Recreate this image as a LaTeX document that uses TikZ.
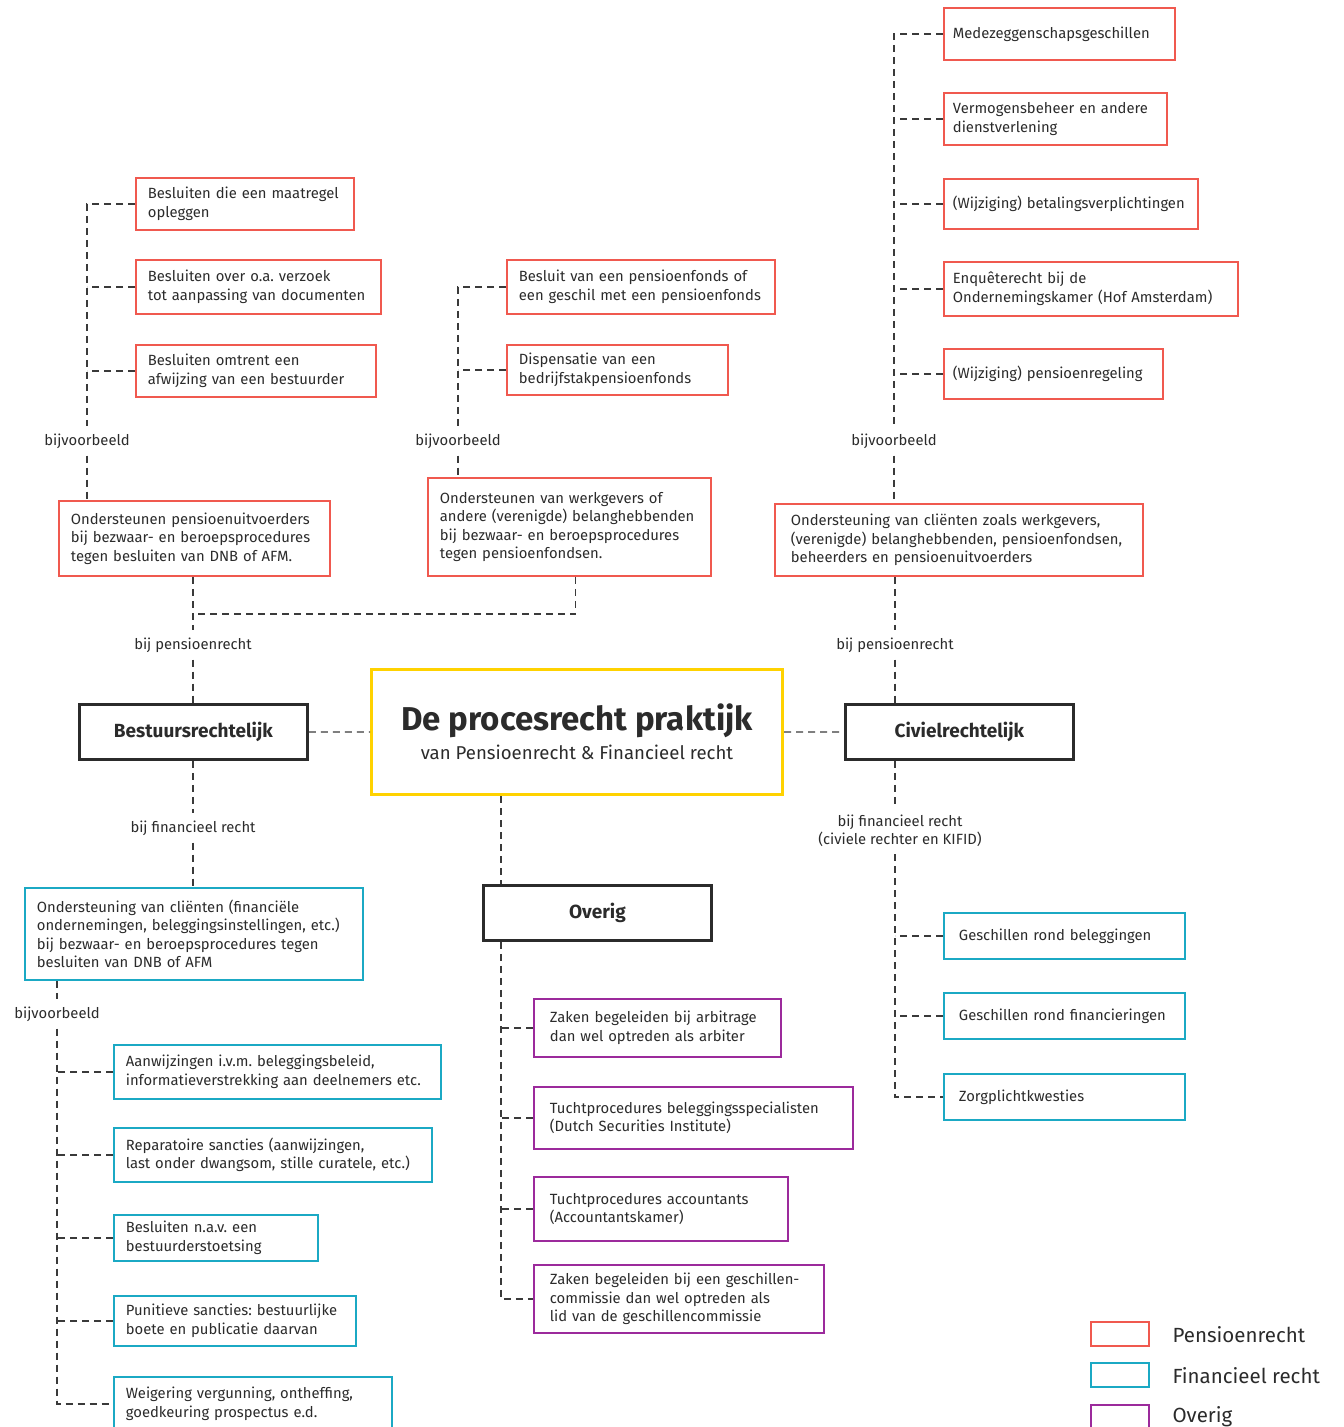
\documentclass[tikz,border=0pt]{standalone}
\usepackage{fontspec}
\setmainfont{Fira Sans}
\usepackage{tikz}
\usetikzlibrary{positioning}
\usetikzlibrary{calc}
\definecolor{pred}{HTML}{F0594F}
\definecolor{pblue}{HTML}{1BA9C4}
\definecolor{ppurple}{HTML}{9C2A9C}
\definecolor{pyellow}{HTML}{FFD200}
\definecolor{txt}{HTML}{2B2B2B}
\definecolor{lcol}{HTML}{3A3A3A}
\frenchspacing

\begin{document}
\begin{tikzpicture}[
        x=1pt, y=-1pt,
        every node/.style={font=\fontsize{14.8}{18.5}\selectfont, text=txt},
        box/.style={draw, rectangle, anchor=north west, align=left, inner xsep=12pt, inner ysep=0pt, line width=1.8pt},
        rbox/.style={box, draw=pred},
        bbox/.style={box, draw=pblue},
        obox/.style={box, draw=ppurple},
        kbox/.style={draw=txt, line width=2.8pt, minimum width=228, minimum height=55, anchor=north west, font=\fontsize{19}{22}\selectfont\bfseries},
        lbl/.style={align=center, inner ysep=7pt},
        dline/.style={draw=lcol, line width=1.2pt, dash pattern=on 7pt off 5pt}
    ]
    \useasboundingbox (0,0) rectangle (1344,1427);
    \clip (0,0) rectangle (1344,1427);

    % centre
    \node[draw=pyellow, line width=3pt, minimum width=411, minimum height=125, anchor=north west, align=center] (ttl) at (370,668)
        {{\fontsize{33}{36}\selectfont\bfseries De procesrecht praktijk}\\[6pt]{\fontsize{18.6}{22}\selectfont van Pensioenrecht \& Financieel recht}};
    \node[kbox] (bes) at (78,703) {Bestuursrechtelijk};
    \node[kbox] (civ) at (844,703) {Civielrechtelijk};
    \node[kbox] (ovr) at (482,884) {Overig};
    \draw[dline] (bes.east) -- (ttl.west);
    \draw[dline] (ttl.east) -- (civ.west);

    % bestuursrechtelijk, pensioenrecht
    \node[rbox, text width=194, minimum height=52] (b1) at (135,177) {Besluiten die een maatregel\\opleggen};
    \node[rbox, text width=221, minimum height=54] (b2) at (135,259) {Besluiten over o.a. verzoek\\tot aanpassing van documenten};
    \node[rbox, text width=216, minimum height=52] (b3) at (135,344) {Besluiten omtrent een\\afwijzing van een bestuurder};
    \node[rbox, text width=247, minimum height=75] (bp) at (58,500) {Ondersteunen pensioenuitvoerders\\bij bezwaar- en beroepsprocedures\\tegen besluiten van DNB of AFM.};
    \node[lbl] (lbv) at (87,441) {bijvoorbeeld};
    \draw[dline] (b1.west) -| (lbv.north);
    \draw[dline] (b2.west) -- (b2.west -| lbv.north);
    \draw[dline] (b3.west) -- (b3.west -| lbv.north);
    \draw[dline] (lbv.south) -- (lbv.south |- bp.north);

    \node[rbox, text width=244, minimum height=54] (m1) at (506,259) {Besluit van een pensioenfonds of\\een geschil met een pensioenfonds};
    \node[rbox, text width=197, minimum height=50] (m2) at (506,344) {Dispensatie van een\\bedrijfstakpensioenfonds};
    \node[rbox, text width=259, minimum height=98] (wp) at (427,477) {Ondersteunen van werkgevers of\\andere (verenigde) belanghebbenden\\bij bezwaar- en beroepsprocedures\\tegen pensioenfondsen.};
    \node[lbl] (mbv) at (458,441) {bijvoorbeeld};
    \draw[dline] (m1.west) -| (mbv.north);
    \draw[dline] (m2.west) -- (m2.west -| mbv.north);
    \draw[dline] (mbv.south) -- (mbv.south |- wp.north);

    \node[lbl] (bpr) at (193,645) {bij pensioenrecht};
    \coordinate (j1) at (193,614);
    \draw[dline] (bpr.north |- bp.south) -- (bpr.north);
    \draw[dline] (bpr.south) -- (bpr.south |- bes.north);
    \draw[dline] ([xshift=6pt]wp.south) |- (j1);

    % bestuursrechtelijk, financieel recht
    \node[lbl] (bfr) at (193,828) {bij financieel recht};
    \node[bbox, text width=314, minimum height=92] (fin) at (24,887) {Ondersteuning van cli\"enten (financi\"ele\\ondernemingen, beleggingsinstellingen, etc.)\\bij bezwaar- en beroepsprocedures tegen\\besluiten van DNB of AFM};
    \draw[dline] (bfr.north |- bes.south) -- (bfr.north);
    \draw[dline] (bfr.south) -- (bfr.south |- fin.north);
    \node[bbox, text width=303, minimum height=54] (f1) at (113,1044) {Aanwijzingen i.v.m. beleggingsbeleid,\\informatieverstrekking aan deelnemers etc.};
    \node[bbox, text width=294, minimum height=54] (f2) at (113,1127) {Reparatoire sancties (aanwijzingen,\\last onder dwangsom, stille curatele, etc.)};
    \node[bbox, text width=180, minimum height=46] (f3) at (113,1214) {Besluiten n.a.v. een\\bestuurderstoetsing};
    \node[bbox, text width=218, minimum height=50] (f4) at (113,1295) {Punitieve sancties: bestuurlijke\\boete en publicatie daarvan};
    \node[bbox, text width=254, minimum height=54] (f5) at (113,1376) {Weigering vergunning, ontheffing,\\goedkeuring prospectus e.d.};
    \coordinate (ft) at ([xshift=33pt]fin.south west);
    \node[lbl] (fbv) at (57,1014) {bijvoorbeeld};
    \draw[dline] (ft) -- (fbv.north);
    \draw[dline] (fbv.south) |- (f5.west);
    \foreach \n in {f1,f2,f3,f4}
        \draw[dline] (\n.west) -- (\n.west -| fbv.south);

    % civielrechtelijk
    \node[rbox, inner xsep=9pt, text width=213, minimum height=52] (r1) at (943,7) {Medezeggenschapsgeschillen};
    \node[rbox, inner xsep=9pt, text width=205, minimum height=52] (r2) at (943,92) {Vermogensbeheer en andere\\dienstverlening};
    \node[rbox, inner xsep=9pt, text width=236, minimum height=50] (r3) at (943,178) {(Wijziging) betalingsverplichtingen};
    \node[rbox, inner xsep=9pt, text width=276, minimum height=54] (r4) at (943,261) {Enqu\^eterecht bij de\\Ondernemingskamer (Hof Amsterdam)};
    \node[rbox, inner xsep=9pt, text width=201, minimum height=50] (r5) at (943,348) {(Wijziging) pensioenregeling};
    \node[rbox, inner xsep=16pt, text width=336, minimum height=72] (cp) at (774,503) {Ondersteuning van cli\"enten zoals werkgevers,\\(verenigde) belanghebbenden, pensioenfondsen,\\beheerders en pensioenuitvoerders};
    \node[lbl] (rbv) at (894,441) {bijvoorbeeld};
    \draw[dline] (r1.west) -| (rbv.north);
    \foreach \n in {r2,r3,r4,r5}
        \draw[dline] (\n.west) -- (\n.west -| rbv.north);
    \draw[dline] (rbv.south) -- (rbv.south |- cp.north);

    \node[lbl] (cpr) at (895,645) {bij pensioenrecht};
    \draw[dline] (cp.south -| cpr) -- (cpr.north);
    \draw[dline] (cpr.south) -- (cpr.south |- civ.north);

    \node[lbl] (cfr) at (900,831) {bij financieel recht\\(civiele rechter en KIFID)};
    \node[bbox, inner xsep=15pt, text width=211, minimum height=46] (c1) at (943,912) {Geschillen rond beleggingen};
    \node[bbox, inner xsep=15pt, text width=211, minimum height=46] (c2) at (943,992) {Geschillen rond financieringen};
    \node[bbox, inner xsep=15pt, text width=211, minimum height=46] (c3) at (943,1073) {Zorgplichtkwesties};
    \draw[dline] (civ.south -| cpr) -- (cfr.north -| cpr);
    \draw[dline] (cfr.south -| cpr) |- (c3.west);
    \draw[dline] (c1.west) -- (c1.west -| cpr);
    \draw[dline] (c2.west) -- (c2.west -| cpr);

    % overig
    \node[obox, inner xsep=16pt, text width=215, minimum height=58] (o1) at (533,998) {Zaken begeleiden bij arbitrage\\dan wel optreden als arbiter};
    \node[obox, inner xsep=16pt, text width=287, minimum height=62] (o2) at (533,1086) {Tuchtprocedures beleggingsspecialisten\\(Dutch Securities Institute)};
    \node[obox, inner xsep=16pt, text width=222, minimum height=64] (o3) at (533,1176) {Tuchtprocedures accountants\\(Accountantskamer)};
    \node[obox, inner xsep=16pt, text width=258, minimum height=68] (o4) at (533,1264) {Zaken begeleiden bij een geschillen-\\commissie dan wel optreden als\\lid van de geschillencommissie};
    \coordinate (ot) at ([xshift=19pt]ovr.north west);
    \coordinate (ob) at ([xshift=19pt]ovr.south west);
    \draw[dline] (ttl.south -| ot) -- (ot);
    \draw[dline] (ob) |- (o4.west);
    \foreach \n in {o1,o2,o3}
        \draw[dline] (\n.west) -- (\n.west -| ob);

    % legenda
    \node[rbox, minimum width=58, minimum height=24] (lg1) at (1090,1321) {};
    \node[bbox, minimum width=58, minimum height=24] (lg2) at (1090,1362) {};
    \node[obox, minimum width=58, minimum height=24] (lg3) at (1090,1404) {};
    \node[anchor=west, font=\fontsize{20.5}{24}\selectfont] (lt1) at (1169,1335) {Pensioenrecht};
    \node[anchor=west, font=\fontsize{20.5}{24}\selectfont] (lt2) at (1169,1376) {Financieel recht};
    \node[anchor=west, font=\fontsize{20.5}{24}\selectfont] (lt3) at (1169,1417) {Overig};
\end{tikzpicture}
\end{document}
